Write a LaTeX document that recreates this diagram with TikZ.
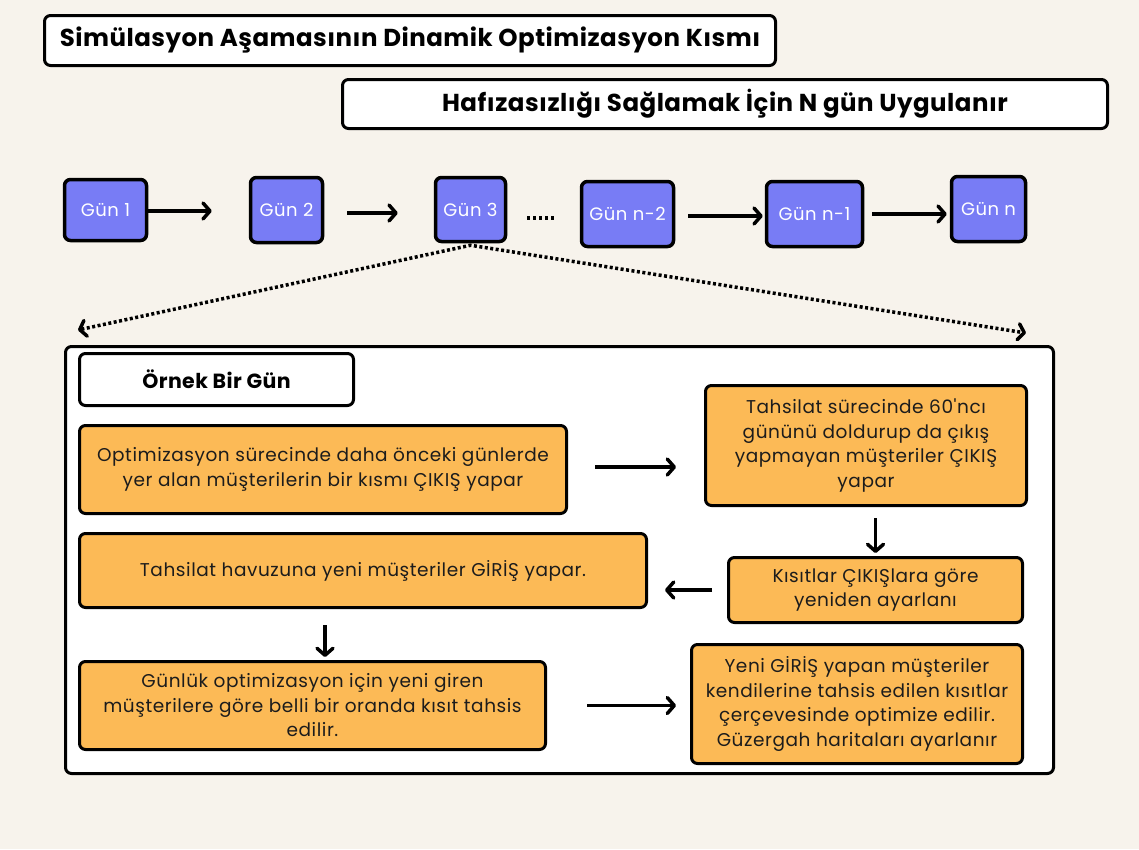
\documentclass[tikz,border=0pt]{standalone}
\usepackage{fontspec}
\setmainfont{Poppins}
\newfontfamily\bodyfont{Poppins}[LetterSpace=3]
\newfontfamily\headfont{Poppins}[LetterSpace=2]
\usetikzlibrary{arrows.meta}
\definecolor{bgcream}{HTML}{F7F3EC}
\definecolor{dayblue}{HTML}{787CF5}
\definecolor{steporange}{HTML}{FCBA56}
\definecolor{inkdark}{HTML}{1C1C1C}
\tikzset{
  whitebox/.style={draw=black, line width=3pt, rounded corners=6pt, fill=white, inner sep=0pt, text=black},
  daybox/.style={draw=black, line width=3.5pt, rounded corners=6pt, fill=dayblue, inner sep=0pt, text=white,
    font=\bodyfont\fontsize{18}{21}\selectfont},
  stepbox/.style={draw=black, line width=3pt, rounded corners=6pt, fill=steporange, inner sep=0pt, text=inkdark,
    align=center, font=\bodyfont\fontsize{18.5}{24.5}\selectfont},
  flow/.style={line width=3.5pt, -{Straight Barb[length=7pt,width=16pt,line cap=round,line join=round]}},
  zoomline/.style={line width=3.5pt, dash pattern=on 3pt off 2.5pt,
    {Straight Barb[length=6pt,width=16pt,line cap=round,line join=round]}-{Straight Barb[length=6pt,width=16pt,line cap=round,line join=round]}},
}
\begin{document}
\begin{tikzpicture}[x=1pt,y=-1pt]
  % page and background
  \fill[bgcream] (0,0) rectangle (1139,849);
  \useasboundingbox (0,0) rectangle (1139,849);

  % headings
  \node[whitebox, minimum width=731, minimum height=50, font=\headfont\bfseries\fontsize{24.5}{28}\selectfont]
    (t1) at (410,40.5) {Simülasyon Aşamasının Dinamik Optimizasyon Kısmı};
  \node[whitebox, minimum width=765, minimum height=49, font=\headfont\bfseries\fontsize{24.5}{28}\selectfont]
    (t2) at (725,104) {Hafızasızlığı Sağlamak İçin N gün Uygulanır};

  % row of days
  \node[daybox, minimum width=82, minimum height=61] (g1) at (105.5,210) {Gün 1};
  \node[daybox, minimum width=72, minimum height=65] (g2) at (286.5,210) {Gün 2};
  \node[daybox, minimum width=70, minimum height=64] (g3) at (470.5,209.5) {Gün 3};
  \node[daybox, minimum width=92, minimum height=65] (gn2) at (627.5,214) {Gün n-2};
  \node[daybox, minimum width=96, minimum height=65] (gn1) at (814.5,214) {Gün n-1};
  \node[daybox, minimum width=74, minimum height=65] (gn) at (988.5,209) {Gün n};

  \draw[flow, shorten >=37pt] ([yshift=-1pt]g1.east) -- ([yshift=-1pt]g1.east -| g2.west);
  \draw[flow, shorten <=23pt, shorten >=36pt] ([yshift=-3pt]g2.east) -- ([yshift=-3pt]g2.east -| g3.west);
  \draw[line width=4pt, dash pattern=on 3pt off 3pt, shorten <=20pt, shorten >=24pt]
    ([yshift=-8.5pt]g3.east) -- ([yshift=-8.5pt]g3.east -| gn2.west);
  \draw[flow, shorten <=13pt, shorten >=2pt] ([yshift=-2pt]gn2.east) -- ([yshift=-2pt]gn2.east -| gn1.west);
  \draw[flow, shorten <=8pt, shorten >=3pt] (gn1.east) -- (gn1.east -| gn.west);

  % zoom into one day
  \coordinate (zl) at (78,330);
  \coordinate (zr) at (1026,333);
  \draw[zoomline] (zl) -- ([yshift=-2pt]g3.south) -- (zr);

  % one sample day
  \node[whitebox, minimum width=988, minimum height=427] (day) at (559.5,560) {};
  \node[whitebox, minimum width=274, minimum height=52, font=\headfont\bfseries\fontsize{20.5}{24}\selectfont]
    (ex) at (216.5,379.5) {Örnek Bir Gün};

  \node[stepbox, minimum width=487, minimum height=88] (a) at (323,469.5)
    {Optimizasyon sürecinde daha önceki günlerde\\yer alan müşterilerin bir kısmı ÇIKIŞ yapar};
  \node[stepbox, minimum width=321, minimum height=120] (b) at (866,445.5)
    {Tahsilat sürecinde 60'ncı\\gününü doldurup da çıkış\\yapmayan müşteriler ÇIKIŞ\\yapar};
  \node[stepbox, minimum width=294, minimum height=65] (c) at (875.5,590)
    {Kısıtlar ÇIKIŞlara göre\\yeniden ayarlanı};
  \node[stepbox, minimum width=567, minimum height=74] (d) at (363,570.5)
    {Tahsilat havuzuna yeni müşteriler GİRİŞ yapar.};
  \node[stepbox, minimum width=466, minimum height=88] (e) at (312.5,705.5)
    {Günlük optimizasyon için yeni giren\\müşterilere göre belli bir oranda kısıt tahsis\\edilir.};
  \node[stepbox, minimum width=331, minimum height=119] (f) at (857,704)
    {Yeni GİRİŞ yapan müşteriler\\kendilerine tahsis edilen kısıtlar\\çerçevesinde optimize edilir.\\Güzergah haritaları ayarlanır};

  \draw[flow, shorten <=27pt, shorten >=28pt] ([yshift=2.5pt]a.east) -- ([yshift=2.5pt]a.east -| b.west);
  \draw[flow, shorten <=11pt, shorten >=3pt] (c.north |- b.south) -- (c.north);
  \draw[flow, shorten <=15pt, shorten >=17pt] (c.west) -- (c.west -| d.east);
  \draw[flow, shorten <=16pt, shorten >=3pt] ([xshift=-38pt]d.south) -- ([xshift=-38pt]d.south |- e.north);
  \draw[flow, shorten <=40pt, shorten >=14pt] (e.east) -- (e.east -| f.west);
\end{tikzpicture}
\end{document}
